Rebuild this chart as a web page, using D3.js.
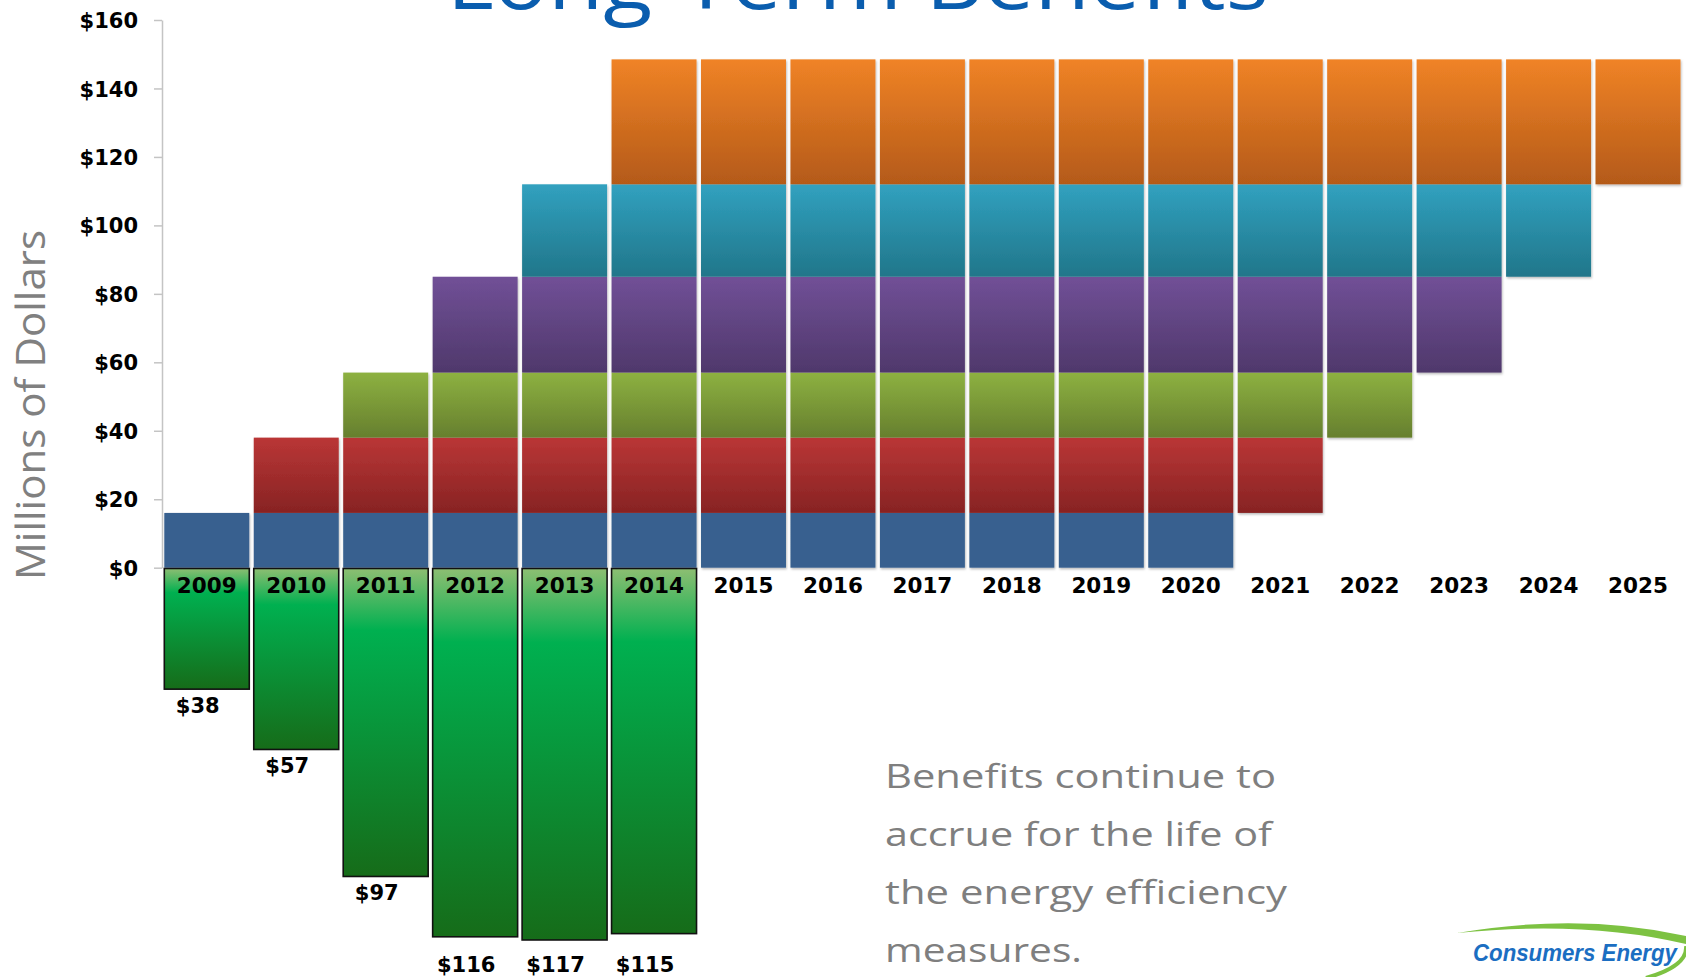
<!DOCTYPE html>
<html><head><meta charset="utf-8">
<script src="https://cdn.jsdelivr.net/npm/d3@7"></script>
<style>html,body{margin:0;padding:0;background:#fff;overflow:hidden}</style>
</head><body>
<svg id="chart" width="1686" height="977"></svg>
<script>
// ---- data ----
const years = ["2009","2010","2011","2012","2013","2014","2015","2016","2017","2018","2019","2020","2021","2022","2023","2024","2025"];
const programYears = ["2009","2010","2011","2012","2013","2014"];
const annualBenefits = [16, 22, 19, 28, 27, 36.5];          // $M per year, by program year
const benefitEndYears = ["2020","2021","2022","2023","2024","2025"];
const programCosts = [38, 57, 97, 116, 117, 115];           // $M spent in program year
const costLabels = ["$38","$57","$97","$116","$117","$115"];
const yTicks = [0, 20, 40, 60, 80, 100, 120, 140, 160];
const layerTop = ["#37618F","#BA3636","#8DB141","#715097","#31A1BF","#F08326"];
const layerBottom = ["#37618F","#872323","#667F2E","#4F386B","#21768A","#B45A19"];
const titleText = "Long-Term Benefits";
const yTitle = "Millions of Dollars";
const noteLines = ["Benefits continue to","accrue for the life of","the energy efficiency","measures."];

// ---- setup ----
const svg = d3.select("#chart");
const x = d3.scaleBand().domain(years).range([164.3, 1680.5]).paddingInner(0.05).paddingOuter(0);
const y = d3.scaleLinear().domain([0, 160]).range([567.7, 20]);
const yCost = d3.scaleLinear().domain([0, 120]).range([568.5, 568.5 + 381]);

const defs = svg.append("defs");
programYears.forEach((p, i) => {
  const g = defs.append("linearGradient").attr("id", "lg" + i)
    .attr("x1", 0).attr("y1", 0).attr("x2", 0).attr("y2", 1);
  g.append("stop").attr("offset", "0%").attr("stop-color", layerTop[i]);
  g.append("stop").attr("offset", "100%").attr("stop-color", layerBottom[i]);
});
const gg = defs.append("linearGradient").attr("id", "greenGrad")
  .attr("x1", 0).attr("y1", 0).attr("x2", 0).attr("y2", 1);
gg.append("stop").attr("offset", "0%").attr("stop-color", "#8DBE72");
gg.append("stop").attr("offset", "20%").attr("stop-color", "#00B050");
gg.append("stop").attr("offset", "100%").attr("stop-color", "#166C19");
const sh = defs.append("filter").attr("id", "shadow").attr("x", "-10%").attr("y", "-10%").attr("width", "130%").attr("height", "130%");
sh.append("feDropShadow").attr("dx", 0.8).attr("dy", 1.5).attr("stdDeviation", 0.9)
  .attr("flood-color", "#000").attr("flood-opacity", 0.28);

// stacked bands (each program keeps its own band position)
const row = {};
programYears.forEach((p, i) => row[p] = annualBenefits[i]);
const layers = d3.stack().keys(programYears)([row]);

// ---- title (partly above the top edge, as in the source slide) ----
svg.append("text").attr("x", 446.7).attr("y", 9)
  .attr("textLength", 822).attr("lengthAdjust", "spacingAndGlyphs")
  .style("font-family", "'Open Sans', Lato, sans-serif").style("font-size", "80px")
  .style("fill", "#0A5DAE").text(titleText);

// ---- positive stacked columns ----
const cols = svg.append("g").attr("class", "cols");
years.forEach(yr => {
  const active = layers.filter((L, i) => yr >= programYears[i] && yr <= benefitEndYears[i]);
  if (!active.length) return;
  const col = cols.append("g").attr("filter", "url(#shadow)");
  active.forEach(L => {
    const i = programYears.indexOf(L.key);
    col.append("rect")
      .attr("x", x(yr)).attr("width", x.bandwidth())
      .attr("y", y(L[0][1])).attr("height", y(L[0][0]) - y(L[0][1]))
      .attr("fill", "url(#lg" + i + ")");
  });
});

// ---- axis ----
const ax = svg.append("g").attr("transform", "translate(162,0)")
  .call(d3.axisLeft(y).tickValues(yTicks).tickSize(8).tickSizeOuter(0).tickPadding(16).tickFormat(d => "$" + d));
ax.select(".domain").attr("stroke", "#C4C4C4").attr("stroke-width", 1.5);
ax.selectAll(".tick line").attr("stroke", "#C4C4C4").attr("stroke-width", 1.5);
ax.selectAll(".tick text").style("font-family", "'DejaVu Sans', sans-serif").style("font-weight", "bold")
  .style("font-size", "21px").style("fill", "#000").attr("dy", "0.36em");

// ---- negative cost bars ----
const neg = svg.append("g");
neg.selectAll("rect").data(programYears).join("rect")
  .attr("x", d => x(d)).attr("width", x.bandwidth())
  .attr("y", yCost(0)).attr("height", (d, i) => yCost(programCosts[i]) - yCost(0))
  .attr("fill", "url(#greenGrad)").attr("stroke", "#111").attr("stroke-width", 1.6);
neg.selectAll("text.cost").data(programYears).join("text").attr("class", "cost")
  .attr("x", d => x(d) + x.bandwidth() / 2 - 9)
  .attr("y", (d, i) => { const b = yCost(programCosts[i]); return b > 920 ? 971.5 : b + 23.5; })
  .attr("text-anchor", "middle")
  .style("font-family", "'DejaVu Sans', sans-serif").style("font-weight", "bold").style("font-size", "21px")
  .text((d, i) => costLabels[i]);

// ---- year labels ----
svg.append("g").selectAll("text").data(years).join("text")
  .attr("x", d => x(d) + x.bandwidth() / 2).attr("y", 593)
  .attr("text-anchor", "middle")
  .style("font-family", "'DejaVu Sans', sans-serif").style("font-weight", "bold").style("font-size", "21.5px")
  .style("fill", "#000").text(d => d);

// ---- y axis title ----
svg.append("text").attr("transform", "translate(45,405) rotate(-90)")
  .attr("text-anchor", "middle").attr("textLength", 350).attr("lengthAdjust", "spacingAndGlyphs")
  .style("font-family", "'Open Sans', Lato, sans-serif").style("font-size", "41px").style("fill", "#808080")
  .text(yTitle);

// ---- note ----
const noteWidths = [391, 387, 402, 197];
svg.append("g").selectAll("text").data(noteLines).join("text")
  .attr("x", 885).attr("y", (d, i) => 788 + i * 58)
  .attr("textLength", (d, i) => noteWidths[i]).attr("lengthAdjust", "spacingAndGlyphs")
  .style("font-family", "'Open Sans', Lato, sans-serif").style("font-size", "32px").style("fill", "#7F7F7F")
  .text(d => d);

// ---- logo ----
const logo = svg.append("g");
logo.append("path").attr("d", "M1457,933 Q1580,912 1686,936 L1686,944 Q1585,920 1457,933 Z").attr("fill", "#7DC242");
logo.append("path").attr("d", "M1686,946 Q1688,966 1646,978").attr("fill", "none").attr("stroke", "#7DC242").attr("stroke-width", 4);
logo.append("text").attr("x", 1473).attr("y", 961).attr("textLength", 204).attr("lengthAdjust", "spacingAndGlyphs")
  .style("font-family", "'Liberation Sans', Arial, sans-serif").style("font-weight", "bold").style("font-style", "italic")
  .style("font-size", "23px").style("fill", "#1B6EC2").text("Consumers Energy");
</script>
</body></html>
